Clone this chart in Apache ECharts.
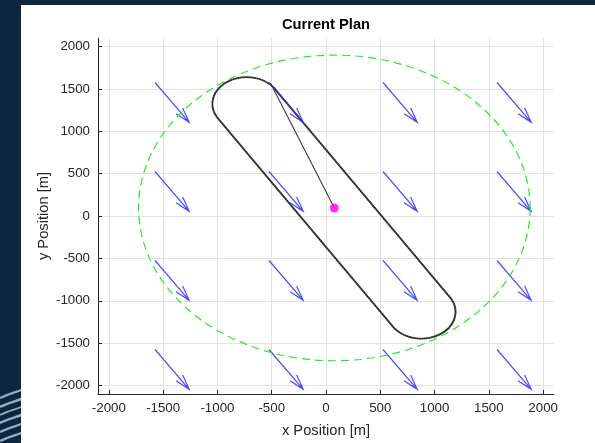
<!DOCTYPE html>
<html><head><meta charset="utf-8">
<script src="https://cdn.jsdelivr.net/npm/echarts@6/dist/echarts.min.js"></script>
<style>html,body{margin:0;padding:0;background:#0b2740;}#c{width:595px;height:443px;}</style>
</head><body><div id="c"></div>
<script>
// ---- data ----
const xTicks = [-2000, -1500, -1000, -500, 0, 500, 1000, 1500, 2000];
const yTicks = [-2000, -1500, -1000, -500, 0, 500, 1000, 1500, 2000];
const axisMin = -2100, axisMax = 2100;
const windGridX = [-1575, -525, 525, 1575];
const windGridY = [-1575, -525, 525, 1575];
const windVector = [315, -470];
const vehiclePos = [77, 95];
const boundaryRadius = 1803;
const loopRadius = 315;
const legUpper = [[-479, 1512], [1150, -972]];
const legLower = [[626, -1320], [-1003, 1164]];
const entryPoint = [-512, 1568];

const windData = [];
windGridY.forEach(y => windGridX.forEach(x => windData.push([x, y, windVector[0], windVector[1]])));

const font = 'Liberation Sans, Arial, Helvetica, sans-serif';
const ink = '#262626';

function axisCfg(ticks, name, gap) {
  return {
    type: 'value', min: axisMin, max: axisMax,
    name: name, nameLocation: 'middle', nameGap: gap, nameMoveOverlap: false,
    nameTextStyle: {color: ink, fontSize: 14.7, fontFamily: font},
    axisLine: {show: true, onZero: false, lineStyle: {color: ink, width: 1}},
    axisTick: {show: true, inside: true, length: 4, customValues: ticks, lineStyle: {color: ink, width: 1}},
    axisLabel: {customValues: ticks, color: ink, fontSize: 13.3, fontFamily: font, margin: 8,
      formatter: v => String(v)},
    splitLine: {show: true, lineStyle: {color: '#e2e2e2', width: 1}}
  };
}

const waves = [];
[[392, 2.2], [401, 2.5], [409, 1.8], [417, 2.6], [426, 2.2], [435, 2.4]].forEach(w => {
  waves.push({type: 'bezierCurve', z: -20,
    shape: {x1: 0, y1: w[0] + 6, cpx1: 8, cpy1: w[0] + 2, cpx2: 14, cpy2: w[0] + 1, x2: 24, y2: w[0] - 3},
    style: {stroke: 'rgba(190,220,238,0.75)', lineWidth: w[1], fill: 'none'}});
});

const chart = echarts.init(document.getElementById('c'), null, {renderer: 'canvas'});
chart.setOption({
  animation: false,
  backgroundColor: '#0b2740',
  textStyle: {fontFamily: font},
  graphic: waves.concat([
    {type: 'rect', z: -10, shape: {x: 21, y: 5, width: 574, height: 438}, style: {fill: '#ffffff'}}
  ]),
  title: {text: 'Current Plan', left: 326, top: 17, padding: 0, textAlign: 'center',
    textStyle: {fontSize: 14.7, fontWeight: 'bold', color: '#000', fontFamily: font}},
  grid: {left: 98, right: 41, top: 38, bottom: 45},
  xAxis: axisCfg(xTicks, 'x Position [m]', 29),
  yAxis: axisCfg(yTicks, 'y Position [m]', 47),
  series: [
    {
      type: 'custom', name: 'racetrack', data: [[0, 0]], encode: {x: 0, y: 1}, z: 2,
      renderItem(params, api) {
        const a = api.coord(legUpper[0]), b = api.coord(legUpper[1]);
        const c = api.coord(legLower[0]), d = api.coord(legLower[1]);
        const s = api.size([loopRadius, loopRadius]);
        const p = `M${a[0]},${a[1]} L${b[0]},${b[1]} A${s[0]},${s[1]} 0 0 1 ${c[0]},${c[1]} L${d[0]},${d[1]} A${s[0]},${s[1]} 0 0 1 ${a[0]},${a[1]}`;
        return {type: 'group', children: [
          {type: 'path', shape: {pathData: p}, style: {fill: 'none', stroke: '#4a4a4a', lineWidth: 1.9}},
          {type: 'path', shape: {pathData: p}, style: {fill: 'none', stroke: '#1e1e1e', lineWidth: 1.3, lineDash: [1.2, 1.2]}}
        ]};
      }
    },
    {
      type: 'line', name: 'entry', data: [vehiclePos, entryPoint], showSymbol: false, z: 2,
      lineStyle: {color: '#3a3a3a', width: 1.1}
    },
    {
      type: 'custom', name: 'wind', data: windData, encode: {x: 0, y: 1}, z: 3,
      renderItem(params, api) {
        const x = api.value(0), y = api.value(1), u = api.value(2), v = api.value(3);
        const p0 = api.coord([x, y]), p1 = api.coord([x + u, y + v]);
        const dx = p0[0] - p1[0], dy = p0[1] - p1[1];
        const L = Math.hypot(dx, dy), ux = dx / L, uy = dy / L, h = 0.3 * L;
        const rot = ang => [p1[0] + h * (ux * Math.cos(ang) - uy * Math.sin(ang)),
                            p1[1] + h * (ux * Math.sin(ang) + uy * Math.cos(ang))];
        const b1 = rot(16 * Math.PI / 180), b2 = rot(-16 * Math.PI / 180);
        const p = `M${p0[0]},${p0[1]} L${p1[0]},${p1[1]} M${b1[0]},${b1[1]} L${p1[0]},${p1[1]} L${b2[0]},${b2[1]}`;
        return {type: 'path', shape: {pathData: p}, style: {fill: 'none', stroke: 'rgba(45,45,255,0.85)', lineWidth: 1.2}};
      }
    },
    {
      type: 'custom', name: 'boundary', data: [[vehiclePos[0], vehiclePos[1], boundaryRadius]], encode: {x: 0, y: 1}, z: 4,
      renderItem(params, api) {
        const c = api.coord([api.value(0), api.value(1)]);
        const s = api.size([api.value(2), api.value(2)]);
        const p = `M${c[0] + s[0]},${c[1]} A${s[0]},${s[1]} 0 1 1 ${c[0] - s[0]},${c[1]} A${s[0]},${s[1]} 0 1 1 ${c[0] + s[0]},${c[1]}`;
        return {type: 'path', shape: {pathData: p}, style: {fill: 'none', stroke: '#22ee22', lineWidth: 1.2, lineDash: [8, 5]}};
      }
    },
    {
      type: 'scatter', name: 'vehicle', data: [vehiclePos], symbolSize: 9, z: 5,
      itemStyle: {color: '#ff00ff'}
    }
  ]
});
</script></body></html>
